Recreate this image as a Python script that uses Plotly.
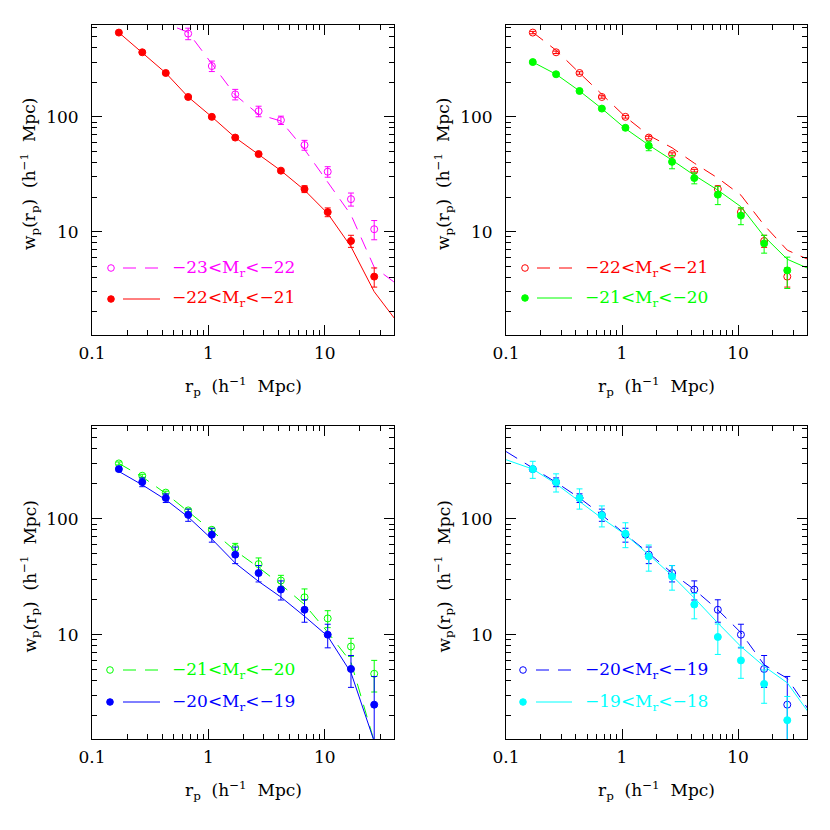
import plotly.graph_objects as go

# ---------------- data ----------------
rp = [0.17, 0.27, 0.43, 0.67, 1.07, 1.7, 2.7, 4.2, 6.7, 10.6, 16.8, 26.6]

wp_23_22 = [2400, 1500, 900, 531, 277, 157, 112, 93.6, 56.8, 33.3, 19.2, 10.5]
er_23_22 = [250, 160, 100, 61, 29, 16.5, 11.8, 7.8, 5.6, 3.5, 2.5, 2.0]

wp_22_21 = [542, 365, 241, 149, 100, 66, 47.4, 34, 23.5, 14.8, 8.3, 4.06]
er_22_21 = [13, 9, 6, 3.7, 2.5, 1.7, 1.2, 0.9, 1.6, 1.3, 1.0, 0.77]

wp_21_20 = [300, 235, 168, 118, 80.3, 56, 40.6, 29.3, 21, 13.8, 7.9, 4.6]
er_21_20 = [9, 7, 5, 3.5, 2.4, 5.3, 5.3, 3.2, 3.8, 2.3, 1.4, 1.4]

wp_20_19 = [268, 207, 151, 108, 72.8, 49, 34, 24.5, 16.4, 10, 5.06, 2.49]
er_20_19 = [12, 18, 13, 13, 10, 8, 5.5, 4.6, 3.6, 2.3, 1.55, 1.87]

wp_19_18 = [268, 207, 151, 107, 74.3, 47.3, 31.8, 18.2, 9.55, 6.0, 3.76, 1.83]
er_19_18 = [45, 37, 30, 22, 18, 12, 7.6, 4.5, 2.8, 1.8, 1.2, 1.1]

# model curves
mx_23_22 = [0.27, 0.43, 0.67, 1.07, 1.7, 2.7, 4.2, 6.7, 10.6, 16.8, 26.6, 40]
my_23_22 = [1000, 650, 545, 290, 155, 105, 92, 52, 27, 14, 4.9, 3.6]

mx_22_21a = [0.17, 0.27, 0.43, 0.67, 1.07, 1.7, 2.7, 4.2, 6.7, 10.6, 16.8, 26.6, 40]
my_22_21a = [542, 365, 241, 149, 100, 66, 47.4, 34, 23, 14.4, 7.4, 3.0, 1.74]

mx_22_21b = [0.17, 0.27, 0.43, 0.67, 1.07, 1.7, 2.7, 4.2, 6.7, 10.6, 16.8, 26.6, 40]
my_22_21b = [545, 380, 241, 157, 100, 69, 53.8, 39.5, 29.3, 20.8, 11.4, 6.9, 5.75]

mx_21_20a = [0.17, 0.27, 0.43, 0.67, 1.07, 1.7, 2.7, 4.2, 6.7, 10.6, 16.8, 26.6, 40]
my_21_20a = [300, 235, 168, 118, 79, 56.8, 42, 31, 23, 16.5, 9.1, 5.75, 4.8]

mx_21_20b = [0.17, 0.27, 0.43, 0.67, 1.07, 1.7, 2.7, 4.2, 6.7, 10.6, 16.8, 26.6]
my_21_20b = [300, 230, 165, 115, 79, 53, 38, 27, 18.2, 10.5, 5.8, 1.2]

mx_20_19a = [0.17, 0.27, 0.43, 0.67, 1.07, 1.7, 2.7, 4.2, 6.7, 10.6, 16.8, 26.6]
my_20_19a = [256, 196, 146, 103.5, 66.8, 41.5, 28.8, 21.1, 14.4, 9.7, 4.7, 1.2]

mx_20_19b = [0.1, 0.17, 0.27, 0.43, 0.67, 1.07, 1.7, 2.7, 4.2, 6.7, 10.6, 16.8, 26.6, 40]
my_20_19b = [380, 275, 206, 151, 108, 73, 50.6, 34, 24.5, 16.4, 10.4, 5.5, 4.2, 2.3]

mx_19_18 = [0.1, 0.17, 0.27, 0.43, 0.67, 1.07, 1.7, 2.7, 4.2, 6.7, 10.6, 16.8, 26.6, 40]
my_19_18 = [323, 268, 200, 141, 101, 72.8, 49, 32.3, 20.7, 12.6, 7.9, 5.33, 3.84, 2.18]

x_tickvals = [0.1, 1, 10]
x_ticktext = ["0.1", "1", "10"]
y_tickvals = [10, 100]
y_ticktext = ["10", "100"]

MAGENTA = "#ff00ff"
RED = "#ff0000"
GREEN = "#00ff00"
BLUE = "#0000ff"
CYAN = "#00ffff"
DASH = "13px,9px"
FONT = "DejaVu Serif"

# page body has an 8px margin; the figure is laid out in page pixels minus that
OFF = 8
W = H = 830 - OFF


def PX(px):
    return (px - OFF) / W


def PY(py):
    return 1 - (py - OFF) / H


fig = go.Figure()


def pts(x, y, e, color, filled, ax):
    fig.add_trace(go.Scatter(
        x=x, y=y, mode="markers", xaxis="x" + ax, yaxis="y" + ax,
        marker=dict(symbol="circle" if filled else "circle-open", size=7,
                    color=color, line=dict(color=color, width=1)),
        error_y=dict(type="data", array=e, color=color, thickness=1, width=3),
        showlegend=False))


def line(x, y, color, dashed, ax):
    fig.add_trace(go.Scatter(
        x=x, y=y, mode="lines", xaxis="x" + ax, yaxis="y" + ax,
        line=dict(color=color, width=1, dash=DASH if dashed else "solid"),
        showlegend=False))


# panel 1 (top-left)
line(mx_23_22, my_23_22, MAGENTA, True, "")
pts(rp, wp_23_22, er_23_22, MAGENTA, False, "")
line(mx_22_21a, my_22_21a, RED, False, "")
pts(rp, wp_22_21, er_22_21, RED, True, "")
# panel 2 (top-right)
line(mx_22_21b, my_22_21b, RED, True, "2")
pts(rp, wp_22_21, er_22_21, RED, False, "2")
line(mx_21_20a, my_21_20a, GREEN, False, "2")
pts(rp, wp_21_20, er_21_20, GREEN, True, "2")
# panel 3 (bottom-left)
line(mx_21_20b, my_21_20b, GREEN, True, "3")
pts(rp, wp_21_20, er_21_20, GREEN, False, "3")
line(mx_20_19a, my_20_19a, BLUE, False, "3")
pts(rp, wp_20_19, er_20_19, BLUE, True, "3")
# panel 4 (bottom-right)
line(mx_20_19b, my_20_19b, BLUE, True, "4")
pts(rp, wp_20_19, er_20_19, BLUE, False, "4")
line(mx_19_18, my_19_18, CYAN, False, "4")
pts(rp, wp_19_18, er_19_18, CYAN, True, "4")

xminor = [0.2, 0.3, 0.4, 0.5, 0.6, 0.7, 0.8, 0.9, 2, 3, 4, 5, 6, 7, 8, 9, 20, 30]
yminor = [2, 3, 4, 5, 6, 7, 8, 9, 20, 30, 40, 50, 60, 70, 80, 90, 200, 300, 400, 500, 600]

XT = "r<sub>p</sub>&nbsp; (h<sup>−1</sup>&nbsp; Mpc)"
YT = "w<sub>p</sub>(r<sub>p</sub>)&nbsp; (h<sup>−1</sup>&nbsp; Mpc)"


def xax(dom, anchor):
    return dict(type="log", range=[-1.0005, 1.595], domain=dom, anchor=anchor,
                automargin=False,
                showline=True, linecolor="black", linewidth=1, mirror="allticks",
                ticks="inside", ticklen=10, tickwidth=1, tickcolor="black",
                tickvals=x_tickvals, ticktext=x_ticktext, ticklabelstandoff=3,
                minor=dict(ticks="inside", ticklen=5, tickwidth=1, tickcolor="black",
                           tickvals=xminor, showgrid=False),
                showgrid=False, zeroline=False,
                tickfont=dict(family=FONT, size=17, color="black"))


def yax(dom, anchor):
    return dict(type="log", range=[0.1, 2.8], domain=dom, anchor=anchor,
                automargin=False,
                showline=True, linecolor="black", linewidth=1, mirror="allticks",
                ticks="inside", ticklen=10, tickwidth=1, tickcolor="black",
                tickvals=y_tickvals, ticktext=y_ticktext, ticklabelstandoff=9,
                minor=dict(ticks="inside", ticklen=5, tickwidth=1, tickcolor="black",
                           tickvals=yminor, showgrid=False),
                showgrid=False, zeroline=False,
                tickfont=dict(family=FONT, size=17, color="black"))


XL = [PX(92), PX(394)]
XR = [PX(506), PX(807)]
YT_ = [PY(335), PY(25)]
YB = [PY(739), PY(426)]

fig.update_layout(
    width=W, height=H, margin=dict(l=0, r=0, t=0, b=0),
    paper_bgcolor="white", plot_bgcolor="white", showlegend=False,
    xaxis=xax(XL, "y"), yaxis=yax(YT_, "x"),
    xaxis2=xax(XR, "y2"), yaxis2=yax(YT_, "x2"),
    xaxis3=xax(XL, "y3"), yaxis3=yax(YB, "x3"),
    xaxis4=xax(XR, "y4"), yaxis4=yax(YB, "x4"),
)

# axis titles
for xd, yd in [(XL, YT_), (XR, YT_), (XL, YB), (XR, YB)]:
    xc = (xd[0] + xd[1]) / 2
    fig.add_annotation(xref="paper", yref="paper", x=xc, y=yd[0] - 51 / H,
                       xanchor="center", yanchor="middle", showarrow=False, text=XT,
                       font=dict(family=FONT, size=17, color="black"))
    yc = (yd[0] + yd[1]) / 2 + 6 / H
    fig.add_annotation(xref="paper", yref="paper", x=xd[0] - 62 / W, y=yc,
                       xanchor="center", yanchor="middle", showarrow=False, text=YT,
                       textangle=-90, font=dict(family=FONT, size=17, color="black"))

# legend keys (page pixel positions)
legend_rows = [
    # circle x, line x0, line x1, text x, y, color, filled, dashed, label
    (111, 123, 163, 170, 268, MAGENTA, False, True, "−23&lt;M<sub>r</sub>&lt;−22"),
    (111, 123, 160, 170, 299, RED, True, False, "−22&lt;M<sub>r</sub>&lt;−21"),
    (525, 537, 572, 583, 268, RED, False, True, "−22&lt;M<sub>r</sub>&lt;−21"),
    (525, 537, 572, 583, 298, GREEN, True, False, "−21&lt;M<sub>r</sub>&lt;−20"),
    (110, 123, 160, 170, 670, GREEN, False, True, "−21&lt;M<sub>r</sub>&lt;−20"),
    (110, 123, 160, 170, 702, BLUE, True, False, "−20&lt;M<sub>r</sub>&lt;−19"),
    (523, 536, 572, 583, 670, BLUE, False, True, "−20&lt;M<sub>r</sub>&lt;−19"),
    (523, 536, 572, 583, 702, CYAN, True, False, "−19&lt;M<sub>r</sub>&lt;−18"),
]
r = 3.3
for cx, lx0, lx1, tx, y, col, filled, dashed, lab in legend_rows:
    fig.add_shape(type="circle", xref="paper", yref="paper",
                  x0=PX(cx - r), x1=PX(cx + r), y0=PY(y + r), y1=PY(y - r),
                  line=dict(color=col, width=1), fillcolor=col if filled else "rgba(0,0,0,0)")
    fig.add_shape(type="line", xref="paper", yref="paper",
                  x0=PX(lx0), x1=PX(lx1), y0=PY(y), y1=PY(y),
                  line=dict(color=col, width=1, dash=DASH if dashed else "solid"))
    fig.add_annotation(xref="paper", yref="paper", x=PX(tx), y=PY(y),
                       xanchor="left", yanchor="middle", showarrow=False, text=lab,
                       font=dict(family=FONT, size=17, color=col))

fig.write_html("out.html")
